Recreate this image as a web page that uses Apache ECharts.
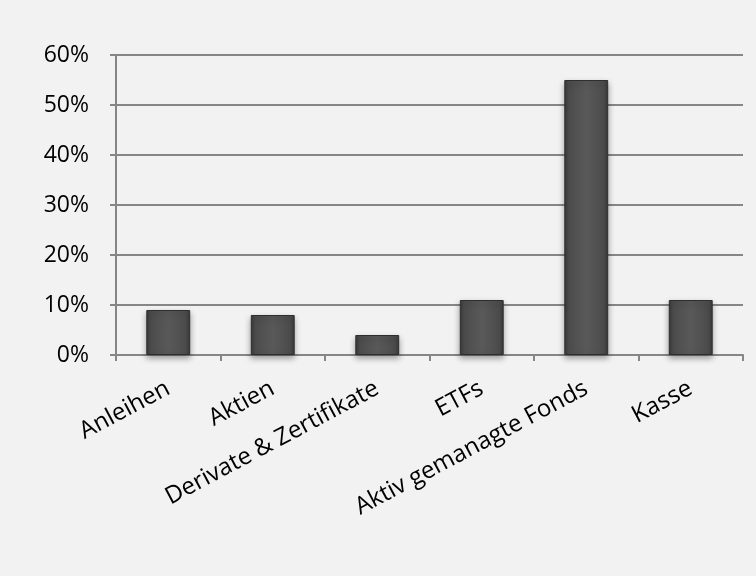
<!DOCTYPE html>
<html><head><meta charset="utf-8">
<script src="https://cdn.jsdelivr.net/npm/echarts@6/dist/echarts.min.js"></script>
<style>html,body{margin:0;padding:0;background:#f2f2f2}#c{width:756px;height:576px}</style>
</head><body><div id="c"></div>
<script>
const categories = ["Anleihen", "Aktien", "Derivate & Zertifikate", "ETFs", "Aktiv gemanagte Fonds", "Kasse"];
const values = [9, 8, 4, 11, 55, 11];
const yTicks = [0, 10, 20, 30, 40, 50, 60];

const chart = echarts.init(document.getElementById('c'), null, {renderer: 'canvas'});
const font = '"Open Sans", sans-serif';
chart.setOption({
  backgroundColor: '#f2f2f2',
  animation: false,
  grid: {left: 116, right: 13, top: 55, bottom: 221, containLabel: false},
  xAxis: {
    type: 'category',
    data: categories,
    axisLine: {lineStyle: {color: '#868686', width: 2}},
    axisTick: {show: true, length: 6, lineStyle: {color: '#868686', width: 2}},
    axisLabel: {rotate: 28, interval: 0, margin: 32, color: '#000', fontSize: 24, fontFamily: font}
  },
  yAxis: {
    type: 'value',
    min: yTicks[0], max: yTicks[yTicks.length - 1], interval: 10,
    axisLine: {show: true, lineStyle: {color: '#868686', width: 2}},
    axisTick: {show: true, length: 6, lineStyle: {color: '#868686', width: 2}},
    splitLine: {lineStyle: {color: '#868686', width: 2}},
    axisLabel: {formatter: v => v + '%', margin: 27, color: '#000', fontSize: 23, fontFamily: font}
  },
  series: [{
    type: 'bar',
    data: values,
    barWidth: '42%',
    itemStyle: {
      color: new echarts.graphic.LinearGradient(0, 0, 1, 0, [
        {offset: 0, color: '#3a3a3a'},
        {offset: 0.1, color: '#4c4c4c'},
        {offset: 0.5, color: '#595959'},
        {offset: 0.9, color: '#4c4c4c'},
        {offset: 1, color: '#3a3a3a'}
      ]),
      borderColor: '#2e2e2e',
      borderWidth: 1,
      shadowColor: 'rgba(0,0,0,0.35)',
      shadowBlur: 6,
      shadowOffsetY: 3
    }
  }]
});
</script></body></html>
